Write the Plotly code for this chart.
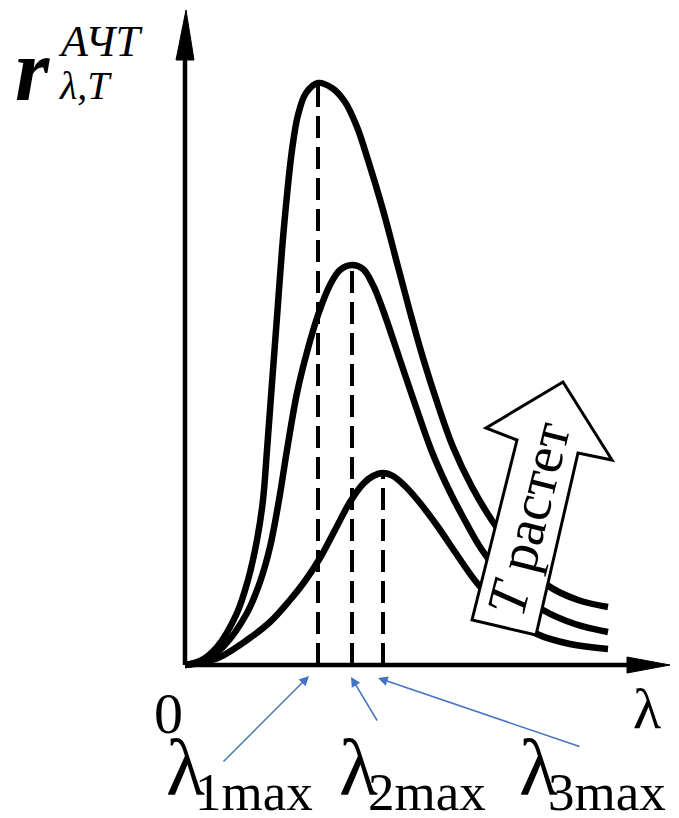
import plotly.graph_objects as go

# ---- data (arbitrary units; origin at the crossing of the axes) ----
lam1 = [0, 15, 32, 52, 63, 72, 78, 82, 87, 92, 97, 102, 107, 113, 121, 133, 147, 160, 172, 183,
        198, 212, 225, 238, 253, 268, 287, 308, 335, 362, 393, 423]
r1 = [0, 4, 18, 52, 85, 125, 165, 215, 282, 348, 415, 470, 515, 550, 572, 582, 577, 563, 538, 505,
      455, 402, 353, 307, 260, 218, 178, 143, 107, 80, 65, 58]

lam2 = [0, 20, 38, 62, 75, 85, 94, 102, 112, 122, 133, 145, 155, 167, 178, 188, 198, 215, 232, 247,
        263, 278, 297, 325, 358, 390, 423]
r2 = [0, 5, 18, 52, 83, 118, 165, 215, 272, 313, 350, 380, 395, 400, 396, 380, 355, 305, 255, 213,
      177, 148, 115, 80, 55, 41, 33]

lam3 = [0, 15, 35, 62, 85, 105, 120, 135, 150, 165, 178, 188, 198, 208, 220, 235, 253, 270, 292,
        320, 352, 385, 423]
r3 = [0, 2, 8, 25, 43, 65, 84, 107, 135, 163, 181, 189, 192, 189, 179, 162, 138, 113, 82,
      53, 31, 21, 16]

curves = [(lam1, r1), (lam2, r2), (lam3, r3)]
sub_labels = ["1max", "2max", "3max"]

X_RANGE = [-185, 494]
Y_RANGE = [-153, 665]
X_AXIS_END = 485
Y_AXIS_END = 655

BLACK = "#000000"
BLUE = "#4472C4"
SERIF = "Liberation Serif, Times New Roman, serif"

fig = go.Figure()

# dashed lines from each maximum down to the λ axis
peaks = []
for lam, r in curves:
    i = max(range(len(r)), key=lambda k: r[k])
    peaks.append((lam[i], r[i]))
    fig.add_trace(go.Scatter(x=[lam[i], lam[i]], y=[0, r[i]], mode="lines",
                             line=dict(color=BLACK, width=4, dash="22px,9px"),
                             hoverinfo="skip", showlegend=False))

for lam, r in curves:
    fig.add_trace(go.Scatter(x=lam, y=r, mode="lines",
                             line=dict(color=BLACK, width=6.5, shape="spline", smoothing=1.0),
                             hoverinfo="skip", showlegend=False))

shapes = []
# axes
shapes.append(dict(type="line", x0=0, y0=0, x1=X_AXIS_END - 30, y1=0,
                   line=dict(color=BLACK, width=4.5), layer="above"))
shapes.append(dict(type="line", x0=0, y0=0, x1=0, y1=Y_AXIS_END - 30,
                   line=dict(color=BLACK, width=4.5), layer="above"))
# arrow heads of axes
xa = X_AXIS_END
shapes.append(dict(type="path", path=f"M {xa-43},-8 L {xa},0 L {xa-43},8 Z",
                   fillcolor=BLACK, line=dict(color=BLACK, width=1), layer="above"))
ya = Y_AXIS_END
shapes.append(dict(type="path", path=f"M -9,{ya-50} L 1,{ya} L 9,{ya-50} Z",
                   fillcolor=BLACK, line=dict(color=BLACK, width=1), layer="above"))

# "T растет" block arrow
arrow_pts = [(287, 45), (332, 225), (301, 237), (378, 283), (427, 205), (393, 212), (351, 30)]
path = "M " + " L ".join(f"{a},{b}" for a, b in arrow_pts) + " Z"
shapes.append(dict(type="path", path=path, fillcolor="white",
                   line=dict(color=BLACK, width=3), layer="above"))

annotations = []
annotations.append(dict(x=343, y=146, text="<i>T</i> растет", showarrow=False, textangle=-76,
                        font=dict(family=SERIF, size=56, color=BLACK)))

# axis labels
annotations.append(dict(x=-17, y=-48, text="0", showarrow=False,
                        font=dict(family=SERIF, size=58, color=BLACK)))
annotations.append(dict(x=462, y=-43, text="λ", showarrow=False,
                        font=dict(family=SERIF, size=58, color=BLACK)))
annotations.append(dict(x=-153, y=595, text="<b><i>r</i></b>", showarrow=False,
                        font=dict(family=SERIF, size=88, color=BLACK)))
annotations.append(dict(x=-100, y=580, text="<i>λ,T</i>", showarrow=False,
                        font=dict(family=SERIF, size=40, color=BLACK)))
annotations.append(dict(x=-85, y=624, text="<i>АЧТ</i>", showarrow=False,
                        font=dict(family=SERIF, size=44, color=BLACK)))

# λ_max labels with blue pointers
label_x = [0, 173, 353]
heads = [(124, -11), (166, -12), (193, -13)]
tails = [(37, -98), (193, -57), (396, -82)]
for lx, sub, (hx, hy), (tx, ty) in zip(label_x, sub_labels, heads, tails):
    annotations.append(dict(x=lx, y=-103, text="λ", showarrow=False,
                            font=dict(family=SERIF, size=80, color=BLACK)))
    annotations.append(dict(x=lx + 69, y=-127, text=sub, showarrow=False,
                            font=dict(family=SERIF, size=53, color=BLACK)))
    annotations.append(dict(x=hx, y=hy, ax=tx, ay=ty, axref="x", ayref="y", xref="x", yref="y",
                            text="", showarrow=True, arrowhead=2, arrowsize=1.3,
                            arrowwidth=1.5, arrowcolor=BLUE))

fig.update_layout(
    width=679, height=818,
    margin=dict(l=0, r=0, t=0, b=0),
    paper_bgcolor="white", plot_bgcolor="white",
    xaxis=dict(range=X_RANGE, visible=False, fixedrange=True),
    yaxis=dict(range=Y_RANGE, visible=False, fixedrange=True),
    shapes=shapes, annotations=annotations, showlegend=False,
)

fig.write_html("out.html", config={"displayModeBar": False},
               post_script="document.body.style.margin='0px';document.body.style.overflow='hidden';")
